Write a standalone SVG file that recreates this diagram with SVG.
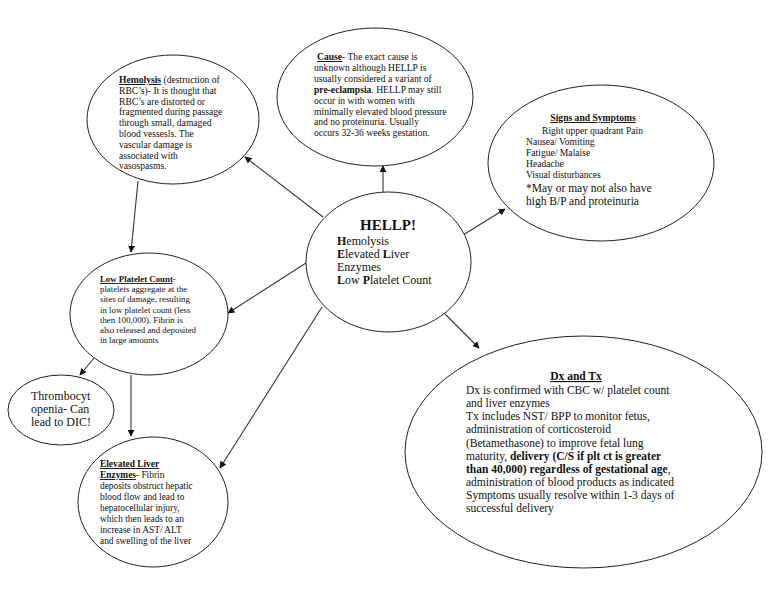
<svg xmlns="http://www.w3.org/2000/svg" width="768" height="594" viewBox="0 0 768 594">
<style>
  .node { fill: #ffffff; stroke: #222222; stroke-width: 1; }
  .edge { stroke: #333333; stroke-width: 1.1; fill: none; marker-end: url(#arr); }
  text { font-family: "Liberation Serif", "Times New Roman", serif; fill: #111111; }
  .s9 { font-size: 9.6px; }
  .s8 { font-size: 8.8px; }
  .s9b { font-size: 9.4px; }
  .s11 { font-size: 11.5px; }
  .s12 { font-size: 12px; }
  .b { font-weight: bold; }
  .u { text-decoration: underline; }
</style>
<defs>
  <marker id="arr" viewBox="0 0 10 10" refX="9" refY="5" markerWidth="7" markerHeight="7" markerUnits="userSpaceOnUse" orient="auto">
    <path d="M0,0 L10,5 L0,10 z" fill="#111111"/>
  </marker>
</defs>
<rect width="768" height="594" fill="#ffffff"/>

<g id="connectors">
  <line class="edge" x1="323" y1="217" x2="245" y2="157"/>
  <line class="edge" x1="383" y1="192" x2="383" y2="166"/>
  <line class="edge" x1="463" y1="235" x2="505" y2="209"/>
  <line class="edge" x1="306" y1="263" x2="228" y2="313"/>
  <line class="edge" x1="322" y1="307" x2="220" y2="468"/>
  <line class="edge" x1="445" y1="314" x2="479" y2="348"/>
  <line class="edge" x1="138" y1="181" x2="131" y2="252"/>
  <line class="edge" x1="94" y1="358" x2="80" y2="375"/>
  <line class="edge" x1="131" y1="375" x2="131" y2="436"/>
</g>

<g id="hemolysis">
  <ellipse class="node" cx="173" cy="119.5" rx="86" ry="64.5"/>
  <text class="s9" x="119" y="83"><tspan class="b u">Hemolysis</tspan> (destruction of</text>
  <text class="s9" x="119" y="93.8">RBC’s)-  It is thought that</text>
  <text class="s9" x="119" y="104.6">RBC’s are distorted or</text>
  <text class="s9" x="119" y="115.4">fragmented during passage</text>
  <text class="s9" x="119" y="126.2">through small, damaged</text>
  <text class="s9" x="119" y="137">blood vessesls.  The</text>
  <text class="s9" x="119" y="147.8">vascular damage is</text>
  <text class="s9" x="119" y="158.6">associated with</text>
  <text class="s9" x="119" y="169.4">vasospasms.</text>
</g>

<g id="cause">
  <ellipse class="node" cx="375" cy="97" rx="98" ry="69"/>
  <text class="s9" x="317" y="60"><tspan class="b u">Cause</tspan>- The exact cause is</text>
  <text class="s9" x="314" y="70.9">unknown although HELLP is</text>
  <text class="s9" x="314" y="81.8">usually considered a variant of</text>
  <text class="s9" x="314" y="92.7"><tspan class="b">pre-eclampsia</tspan>.  HELLP may still</text>
  <text class="s9" x="314" y="103.6">occur in with women with</text>
  <text class="s9" x="314" y="114.5">minimally elevated blood pressure</text>
  <text class="s9" x="314" y="125.4">and no proteinuria.  Usually</text>
  <text class="s9" x="314" y="136.3">occurs 32-36 weeks gestation.</text>
</g>

<g id="signs">
  <ellipse class="node" cx="601" cy="163" rx="113" ry="78"/>
  <text class="s9 b u" x="593" y="121" text-anchor="middle">Signs and Symptoms</text>
  <text class="s9" x="542" y="134">Right upper quadrant Pain</text>
  <text class="s9" x="526" y="145">Nausea/ Vomiting</text>
  <text class="s9" x="526" y="156">Fatigue/ Malaise</text>
  <text class="s9" x="526" y="167">Headache</text>
  <text class="s9" x="526" y="178">Visual disturbances</text>
  <text class="s11" x="526" y="192">*May or may not also have</text>
  <text class="s11" x="526" y="204.5">high B/P and proteinuria</text>
</g>

<g id="hellp">
  <ellipse class="node" cx="388.5" cy="262" rx="82.5" ry="70"/>
  <text class="b" style="font-size:15px" x="388" y="230" text-anchor="middle">HELLP!</text>
  <text class="s12" x="337" y="245"><tspan class="b">H</tspan>emolysis</text>
  <text class="s12" x="337" y="258"><tspan class="b">E</tspan>levated <tspan class="b">L</tspan>iver</text>
  <text class="s12" x="337" y="271">Enzymes</text>
  <text class="s12" x="337" y="284"><tspan class="b">L</tspan>ow <tspan class="b">P</tspan>latelet Count</text>
</g>

<g id="low-platelet">
  <ellipse class="node" cx="149" cy="314" rx="79" ry="61"/>
  <text class="s8" x="100" y="282"><tspan class="b u">Low Platelet Count</tspan>-</text>
  <text class="s8" x="100" y="292.2">platelets aggregate at the</text>
  <text class="s8" x="100" y="302.4">sites of damage, resulting</text>
  <text class="s8" x="100" y="312.6">in low platelet count (less</text>
  <text class="s8" x="100" y="322.8">then 100,000).  Fibrin is</text>
  <text class="s8" x="100" y="333">also released and deposited</text>
  <text class="s8" x="100" y="343.2">in large amounts</text>
</g>

<g id="thrombocytopenia">
  <ellipse class="node" cx="61" cy="410" rx="53" ry="35"/>
  <text class="s12" x="31" y="400">Thrombocyt</text>
  <text class="s12" x="31" y="413">openia- Can</text>
  <text class="s12" x="31" y="426">lead to DIC!</text>
</g>

<g id="elevated-liver">
  <ellipse class="node" cx="153" cy="502" rx="75" ry="65"/>
  <text class="s9b b u" x="100" y="467">Elevated Liver</text>
  <text class="s9b" x="100" y="478"><tspan class="b u">Enzymes</tspan>- Fibrin</text>
  <text class="s9b" x="100" y="489">deposits obstruct hepatic</text>
  <text class="s9b" x="100" y="500">blood flow and lead to</text>
  <text class="s9b" x="100" y="511">hepatocellular injury,</text>
  <text class="s9b" x="100" y="522">which then leads to an</text>
  <text class="s9b" x="100" y="533">increase in AST/ ALT</text>
  <text class="s9b" x="100" y="544">and swelling of the liver</text>
</g>

<g id="dx-tx">
  <ellipse class="node" cx="583.5" cy="452" rx="178.5" ry="116"/>
  <text class="s11 b u" x="576" y="380" text-anchor="middle">Dx and Tx</text>
  <text class="s11" x="466" y="394">Dx is confirmed with CBC w/ platelet count</text>
  <text class="s11" x="466" y="407">and liver enzymes</text>
  <text class="s11" x="466" y="420">Tx includes NST/ BPP to monitor fetus,</text>
  <text class="s11" x="466" y="433">administration of corticosteroid</text>
  <text class="s11" x="466" y="447">(Betamethasone) to improve fetal lung</text>
  <text class="s11" x="466" y="460">maturity, <tspan class="b">delivery (C/S if plt ct is greater</tspan></text>
  <text class="s11" x="466" y="473"><tspan class="b">than 40,000) regardless of gestational age</tspan>,</text>
  <text class="s11" x="466" y="486">administration of blood products as indicated</text>
  <text class="s11" x="466" y="499">Symptoms usually resolve within 1-3 days of</text>
  <text class="s11" x="466" y="512">successful delivery</text>
</g>
</svg>
